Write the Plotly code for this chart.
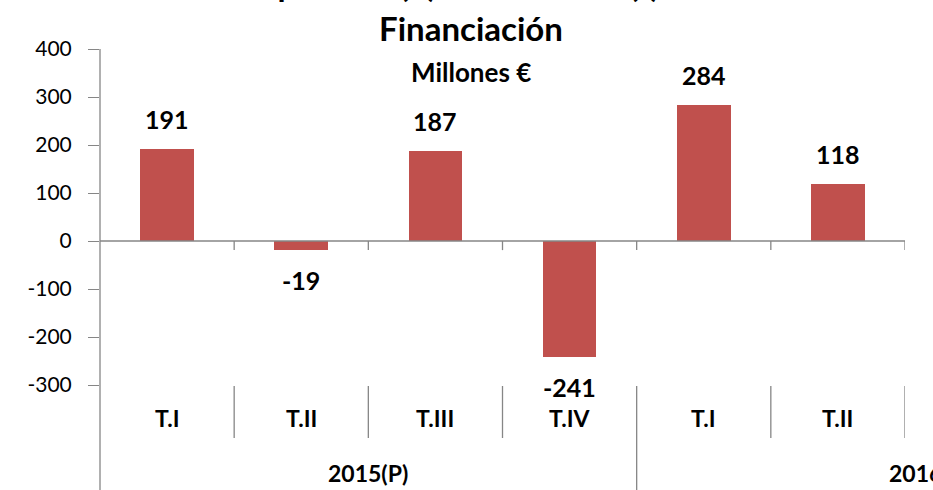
import plotly.graph_objects as go

# ---- data ----
quarters = ["T.I", "T.II", "T.III", "T.IV", "T.I", "T.II"]
values = [191, -19, 187, -241, 284, 118]
groups = ["2015(P)", "2016"]
group_spans = [(0, 3), (4, 7.15)]  # category index spans (2016 continues beyond the visible area)
y_ticks = [-300, -200, -100, 0, 100, 200, 300, 400]
y_tick_text = ["-300", "-200", "-100", "0", "100", "200", "300", "400"]
title_lines = ["Capacidad (+) / Necesidad (-) de", "Financiación"]
subtitle = "Millones €"

FONT = "Lato, 'Open Sans', sans-serif"
BAR = "#C0504D"
AXIS = "#868686"

x_idx = list(range(len(values)))
n = len(values)

fig = go.Figure()
fig.add_trace(go.Bar(
    x=x_idx, y=values, width=0.4,
    marker=dict(color=BAR, line=dict(width=0)),
    hoverinfo="skip",
))

W, H = 933, 490
ml, mr, mt, mb = 100, 28, 49, 105
plot_h = H - mt - mb
plot_w = W - ml - mr

def py(px_y):
    """pixel y (from top) -> paper y"""
    return (H - mb - px_y) / plot_h

def px(px_x):
    return (px_x - ml) / plot_w

def cat_to_paper(c):
    return (c + 0.5) / n

# data labels
for i, v in enumerate(values):
    fig.add_annotation(x=i, y=v, text=f"<b>{v}</b>", showarrow=False,
                       xanchor="center", yanchor="middle",
                       yshift=30 if v >= 0 else -30,
                       font=dict(family=FONT, size=25, color="black"))

# category labels
for i, q in enumerate(quarters):
    fig.add_annotation(x=i, y=py(418), yref="paper", text=f"<b>{q}</b>",
                       showarrow=False, xanchor="center", yanchor="middle",
                       font=dict(family=FONT, size=23, color="black"))

# group labels
for g, (a, b) in zip(groups, group_spans):
    fig.add_annotation(x=cat_to_paper((a + b) / 2), xref="paper", y=py(473), yref="paper",
                       text=f"<b>{g}</b>",
                       showarrow=False, xanchor="center", yanchor="middle",
                       font=dict(family=FONT, size=23, color="black"))

shapes = []
# zero axis line
shapes.append(dict(type="line", xref="paper", yref="y", x0=0, x1=1, y0=0, y1=0,
                   line=dict(color=AXIS, width=1.3)))
# y axis line extended to bottom
shapes.append(dict(type="line", xref="paper", yref="paper", x0=0, x1=0, y0=1, y1=py(495),
                   line=dict(color=AXIS, width=1.3)))
for k in range(n):
    xb = k + 0.5
    # small ticks below zero line
    shapes.append(dict(type="line", xref="x", yref="y", x0=xb, x1=xb, y0=0, y1=-19,
                       line=dict(color=AXIS, width=1.3)))
    # separators in category area
    long = (xb == 3.5)
    shapes.append(dict(type="line", xref="x", yref="paper", x0=xb, x1=xb,
                       y0=py(386), y1=py(495) if long else py(438),
                       line=dict(color=AXIS, width=1.3)))

# title (first line runs off the top, as in the reference)
title_y = [-16, 28]
for line, yy in zip(title_lines, title_y):
    fig.add_annotation(xref="paper", yref="paper", x=px(471), y=py(yy),
                       showarrow=False, xanchor="center", yanchor="middle",
                       text=f"<b>{line}</b>",
                       font=dict(family=FONT, size=33, color="black"))
fig.add_annotation(xref="paper", yref="paper", x=px(471), y=py(72),
                   showarrow=False, xanchor="center", yanchor="middle",
                   text=f"<b>{subtitle}</b>",
                   font=dict(family=FONT, size=26, color="black"))

fig.update_layout(
    width=W, height=H,
    margin=dict(l=ml, r=mr, t=mt, b=mb),
    paper_bgcolor="white", plot_bgcolor="white",
    showlegend=False, bargap=0,
    shapes=shapes,
    xaxis=dict(range=[-0.5, n - 0.5], showticklabels=False, showgrid=False,
               zeroline=False, showline=False, ticks=""),
    yaxis=dict(range=[-300, 400], tickvals=y_ticks, ticktext=y_tick_text,
               showgrid=False, zeroline=False,
               showline=False, ticks="outside", ticklen=11, tickcolor=AXIS, tickwidth=1.3,
               ticklabelstandoff=12, automargin=False,
               tickfont=dict(family=FONT, size=21, color="black")),
)

fig.write_html("out.html", config={"displayModeBar": False},
               post_script="document.body.style.margin='0px';")
